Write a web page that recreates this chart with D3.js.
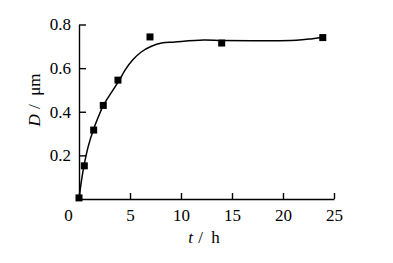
<!DOCTYPE html>
<meta charset="utf-8">
<head>
<script src="https://cdn.jsdelivr.net/npm/d3@7"></script>
</head>
<style>
  body { margin: 0; background: #fff; }
  .axis path, .axis line { stroke: #000; stroke-width: 1.4px; }
</style>
<body></body>
<script>
var width = 393, height = 263;

// measured points
var timeH = [0, 0.52, 1.44, 2.38, 3.82, 6.96, 13.99, 23.9];
var diamUm = [0.005, 0.152, 0.316, 0.429, 0.545, 0.743, 0.715, 0.74];

// fitted curve
var fitT = [0, 0.25, 0.5, 0.9, 1.4, 1.9, 2.4, 3.2, 4, 4.5, 5.3, 6.1, 7.1, 8.1, 9.4, 12.2, 14, 17, 21.3, 22.9, 24];
var fitD = [0, 0.087, 0.155, 0.24, 0.316, 0.377, 0.43, 0.49, 0.548, 0.59, 0.639, 0.674, 0.700, 0.715, 0.72, 0.729, 0.727, 0.726, 0.728, 0.735, 0.741];

var xTicks = [0, 5, 10, 15, 20, 25];
var yTicks = [0.2, 0.4, 0.6, 0.8];

var serif = "Liberation Serif";

var x = d3.scaleLinear().domain([0, 25]).range([79, 334]);
var y = d3.scaleLinear().domain([0, 0.8]).range([199, 24.5]);

var svg = d3.select("body").append("svg")
    .attr("width", width)
    .attr("height", height);

var xAxis = svg.append("g")
    .attr("class", "axis")
    .attr("transform", "translate(0," + y(0) + ")")
    .call(d3.axisBottom(x).tickValues(xTicks).tickSize(-6).tickPadding(10).tickSizeOuter(0));
xAxis.selectAll("text")
    .style("font-family", serif)
    .style("font-size", "17px")
    .attr("fill", "#000");
xAxis.selectAll(".tick").filter(function(d) { return d === 0; })
    .select("text").attr("dx", -11);

var yAxis = svg.append("g")
    .attr("class", "axis")
    .attr("transform", "translate(" + x(0) + ",0)")
    .call(d3.axisLeft(y).tickValues(yTicks).tickSize(-7).tickPadding(8).tickSizeOuter(0)
      .tickFormat(d3.format(".1f")));
yAxis.selectAll("text")
    .style("font-family", serif)
    .style("font-size", "17px")
    .attr("fill", "#000");

var line = d3.line()
    .x(function(d, i) { return x(fitT[i]); })
    .y(function(d) { return y(d); })
    .curve(d3.curveCatmullRom.alpha(0.5));

svg.append("path")
    .datum(fitD)
    .attr("d", line)
    .attr("fill", "none")
    .attr("stroke", "#000")
    .attr("stroke-width", 1.5);

var s = 7;
svg.selectAll(".pt")
    .data(diamUm)
  .enter().append("rect")
    .attr("class", "pt")
    .attr("x", function(d, i) { return x(timeH[i]) - s / 2; })
    .attr("y", function(d) { return y(d) - s / 2; })
    .attr("width", s)
    .attr("height", s)
    .attr("fill", "#000");

// axis titles
var xt = svg.append("text")
    .attr("x", 204)
    .attr("y", 243)
    .attr("text-anchor", "middle")
    .style("font-family", serif)
    .style("font-size", "17px");
xt.append("tspan").style("font-style", "italic").text("t");
xt.append("tspan").attr("dx", 1).text("\u00a0/\u00a0\u00a0h");

var yt = svg.append("text")
    .attr("transform", "translate(40,100) rotate(-90)")
    .attr("text-anchor", "middle")
    .style("font-family", serif)
    .style("font-size", "17px");
yt.append("tspan").style("font-style", "italic").text("D");
yt.append("tspan").attr("dx", 1).text("\u00a0/\u00a0\u00a0μm");
</script>
</html>
